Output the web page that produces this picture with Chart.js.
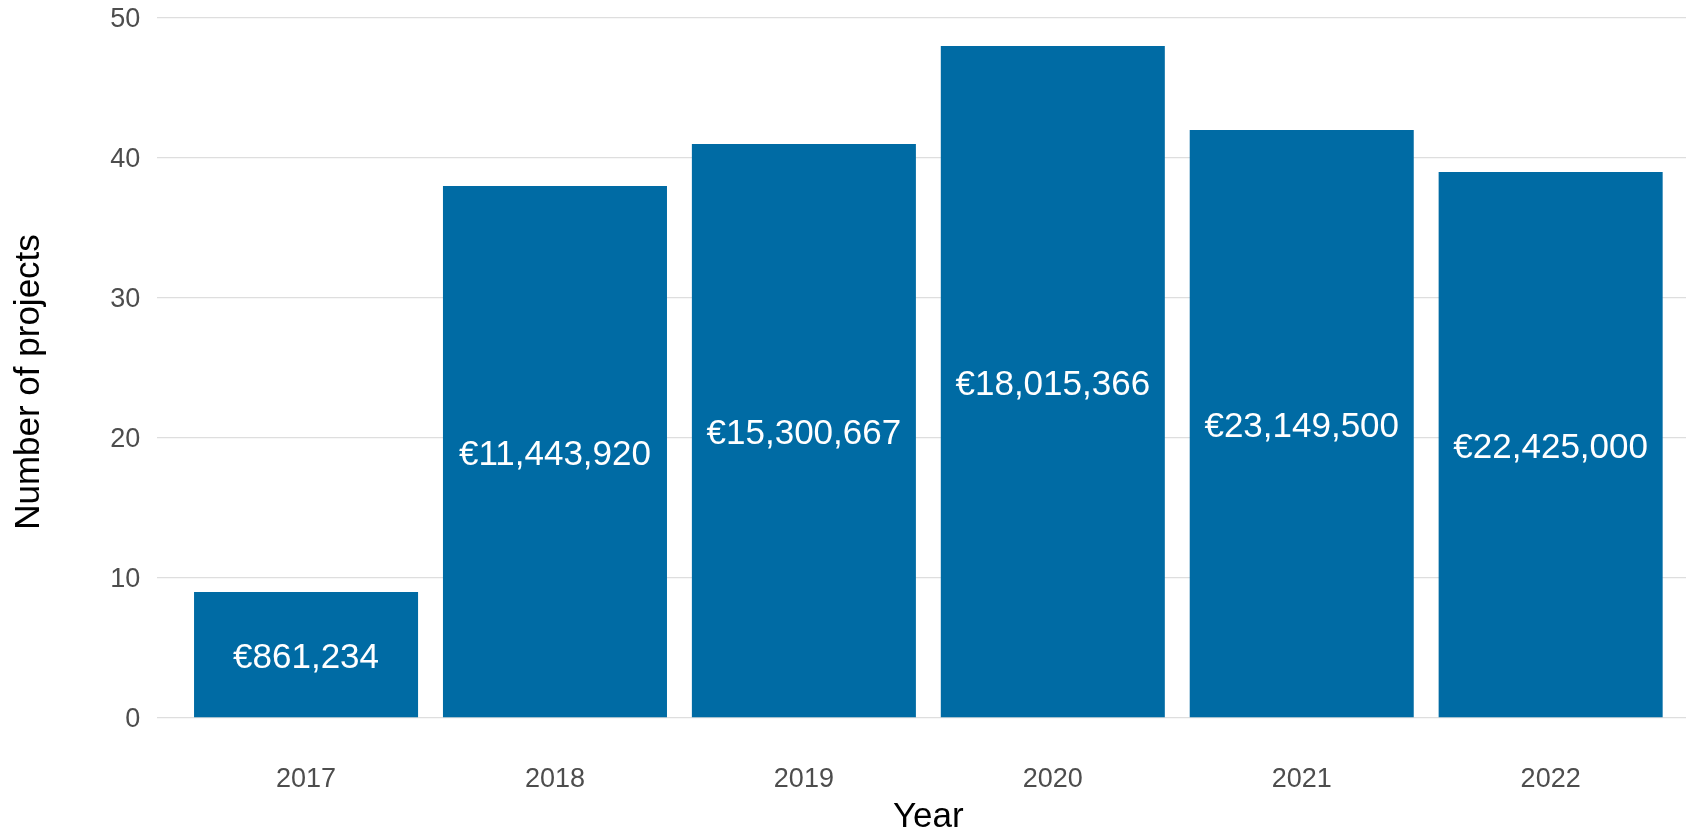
<!DOCTYPE html>
<html>
<head>
<meta charset="utf-8">
<title>Number of projects per year</title>
<script src="https://cdn.jsdelivr.net/npm/chart.js@4/dist/chart.umd.min.js"></script>
<style>
  html, body { margin: 0; padding: 0; overflow: hidden; background: #fff; }
  #wrap { width: 1700px; height: 840px; }
</style>
</head>
<body>
<div id="wrap"><canvas id="projectsChart"></canvas></div>
<script>
// =====================
// DATA
// =====================
const years = ["2017", "2018", "2019", "2020", "2021", "2022"];
const projectCounts = [9, 38, 41, 48, 42, 39];
const fundingTotals = [861234, 11443920, 15300667, 18015366, 23149500, 22425000];
const yTicks = [0, 10, 20, 30, 40, 50];

const FONT = "'Liberation Sans', Arial, sans-serif";
const BAR_COLOR = "#006ba4";

// labels inside the bars, centred at half height
const barLabels = {
  id: "barLabels",
  afterDatasetsDraw(chart) {
    const ctx = chart.ctx;
    const meta = chart.getDatasetMeta(0);
    ctx.save();
    ctx.fillStyle = "#ffffff";
    ctx.font = "35px " + FONT;
    ctx.textAlign = "center";
    ctx.textBaseline = "middle";
    meta.data.forEach((bar, i) => {
      const yMid = (bar.y + bar.base) / 2;
      const text = "€" + fundingTotals[i].toLocaleString("en-US");
      ctx.fillText(text, bar.x, yMid + 3.5);
    });
    ctx.restore();
  }
};

const ctx = document.getElementById("projectsChart").getContext("2d");

new Chart(ctx, {
  type: "bar",
  data: {
    datasets: [{
      label: "Number of projects",
      data: projectCounts.map((c, i) => ({ x: i + 1, y: c })),
      backgroundColor: BAR_COLOR,
      borderWidth: 0,
      categoryPercentage: 1,
      barPercentage: 0.9
    }]
  },
  options: {
    responsive: true,
    maintainAspectRatio: false,
    animation: false,
    layout: { padding: { top: 12.4, left: 0, right: 0, bottom: 0 } },
    plugins: { legend: { display: false }, tooltip: { enabled: false } },
    scales: {
      x: {
        type: "linear",
        offset: false,
        min: 0.4,
        max: 6.6,
        grid: { display: false, offset: false },
        border: { display: false },
        afterBuildTicks: axis => { axis.ticks = years.map((y, i) => ({ value: i + 1 })); },
        afterFit: axis => {
          axis.height = 88.4;
          axis.paddingLeft = 0;
          axis.paddingRight = 0;
        },
        ticks: {
          autoSkip: false,
          maxRotation: 0,
          padding: 4,
          color: "#4d4d4d",
          font: { family: FONT, size: 27 },
          callback: v => years[Math.round(v) - 1]
        },
        title: {
          display: true,
          text: "Year",
          color: "#000000",
          font: { family: FONT, size: 35 },
          padding: { top: 0, bottom: 2 }
        }
      },
      y: {
        min: -2.4,
        max: 50.4,
        grid: { color: "#dedede", lineWidth: 1.3, drawTicks: false },
        border: { display: false },
        afterBuildTicks: axis => { axis.ticks = yTicks.map(v => ({ value: v })); },
        afterFit: axis => {
          axis.width = 156.7;
          axis.paddingTop = 0;
          axis.paddingBottom = 0;
        },
        ticks: {
          padding: 16.5,
          labelOffset: 2,
          color: "#4d4d4d",
          font: { family: FONT, size: 27 }
        },
        title: {
          display: true,
          text: "Number of projects",
          color: "#000000",
          font: { family: FONT, size: 35 },
          padding: { top: 8, bottom: 0 }
        }
      }
    }
  },
  plugins: [barLabels]
});
</script>
</body>
</html>
